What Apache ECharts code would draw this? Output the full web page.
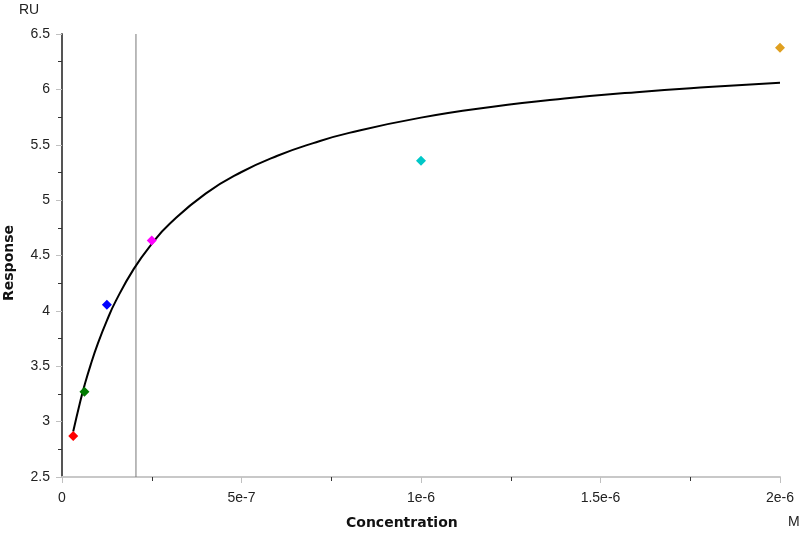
<!DOCTYPE html>
<html>
<head>
<meta charset="utf-8">
<script src="https://cdn.jsdelivr.net/npm/echarts@6/dist/echarts.min.js"></script>
<style>html,body{margin:0;padding:0;background:#fff}#c{width:800px;height:533px}</style>
</head>
<body>
<div id="c"></div>
<script>
// Measured points (concentration in M, response in RU)
const pointConc = [3.125e-8, 6.25e-8, 1.25e-7, 2.5e-7, 1e-6, 2e-6];
const pointResp = [2.87, 3.27, 4.055, 4.635, 5.355, 6.375];
const pointColors = ['#ff0000', '#007a00', '#0000ff', '#ff00ff', '#00c8c8', '#e0a020'];
// Fitted curve
const curveConc = [3.125e-8, 5e-8, 6.25e-8, 8e-8, 1e-7, 1.25e-7, 1.5e-7, 2e-7, 2.5e-7, 3e-7, 4e-7, 5e-7, 6e-7, 7e-7, 8e-7, 1e-6, 1.2e-6, 1.4e-6, 1.6e-6, 1.8e-6, 2e-6];
const curveResp = [2.91, 3.17, 3.325, 3.515, 3.706, 3.912, 4.09, 4.379, 4.605, 4.786, 5.059, 5.254, 5.401, 5.515, 5.607, 5.745, 5.843, 5.917, 5.975, 6.021, 6.06];
// Vertical marker (KD)
const markerConc = 2.06e-7;
const yMin = 2.5, yMax = 6.5;
const xTickLabels = {0: '0', 1: '5e-7', 2: '1e-6', 3: '1.5e-6', 4: '2e-6'};

const font = 'Liberation Sans, Arial, sans-serif';
const titleFont = 'DejaVu Sans, Verdana, sans-serif';
const chart = echarts.init(document.getElementById('c'));
chart.setOption({
  animation: false,
  backgroundColor: '#fff',
  grid: {left: 62, right: 20, top: 34, bottom: 56},
  xAxis: {
    type: 'value', min: 0, max: 2e-6, interval: 5e-7,
    axisLine: {show: true, onZero: false, lineStyle: {color: '#c8c8c8', width: 2}},
    axisTick: {show: true, length: 6, lineStyle: {color: '#c0c0c0', width: 1}},
    minorTick: {show: true, splitNumber: 2, length: 4, lineStyle: {color: '#333', width: 1}},
    splitLine: {show: false},
    axisLabel: {color: '#222', fontFamily: font, fontSize: 14, margin: 14,
      formatter: v => xTickLabels[Math.round(v / 5e-7)]}
  },
  yAxis: {
    type: 'value', min: yMin, max: yMax, interval: 0.5,
    axisLine: {show: true, onZero: false, lineStyle: {color: '#555', width: 2}},
    axisTick: {show: true, length: 6, lineStyle: {color: '#c0c0c0', width: 1}},
    minorTick: {show: true, splitNumber: 2, length: 4, lineStyle: {color: '#333', width: 1}},
    splitLine: {show: false},
    axisLabel: {color: '#222', fontFamily: font, fontSize: 14, margin: 12}
  },
  graphic: [
    {type: 'text', left: 19, top: 3, style: {text: 'RU', font: '14px ' + font, fill: '#222'}},
    {type: 'text', left: 788, top: 515, style: {text: 'M', font: '14px ' + font, fill: '#222'}},
    {type: 'text', left: 346, top: 516, style: {text: 'Concentration', font: 'bold 14px ' + titleFont, fill: '#111'}},
    {type: 'text', x: 2, y: 301, rotation: Math.PI / 2, style: {text: 'Response', font: 'bold 14px ' + titleFont, fill: '#111'}}
  ],
  series: [
    {
      type: 'line', data: [[markerConc, yMin], [markerConc, yMax]],
      showSymbol: false, lineStyle: {color: '#777', width: 1}, z: 2, silent: true
    },
    {
      type: 'line', data: curveConc.map((c, i) => [c, curveResp[i]]),
      smooth: true, showSymbol: false, lineStyle: {color: '#000', width: 2}, z: 3
    },
    {
      type: 'scatter', symbol: 'diamond', symbolSize: 10, z: 5,
      data: pointConc.map((c, i) => ({value: [c, pointResp[i]], itemStyle: {color: pointColors[i], opacity: 1}}))
    }
  ]
});
</script>
</body>
</html>
